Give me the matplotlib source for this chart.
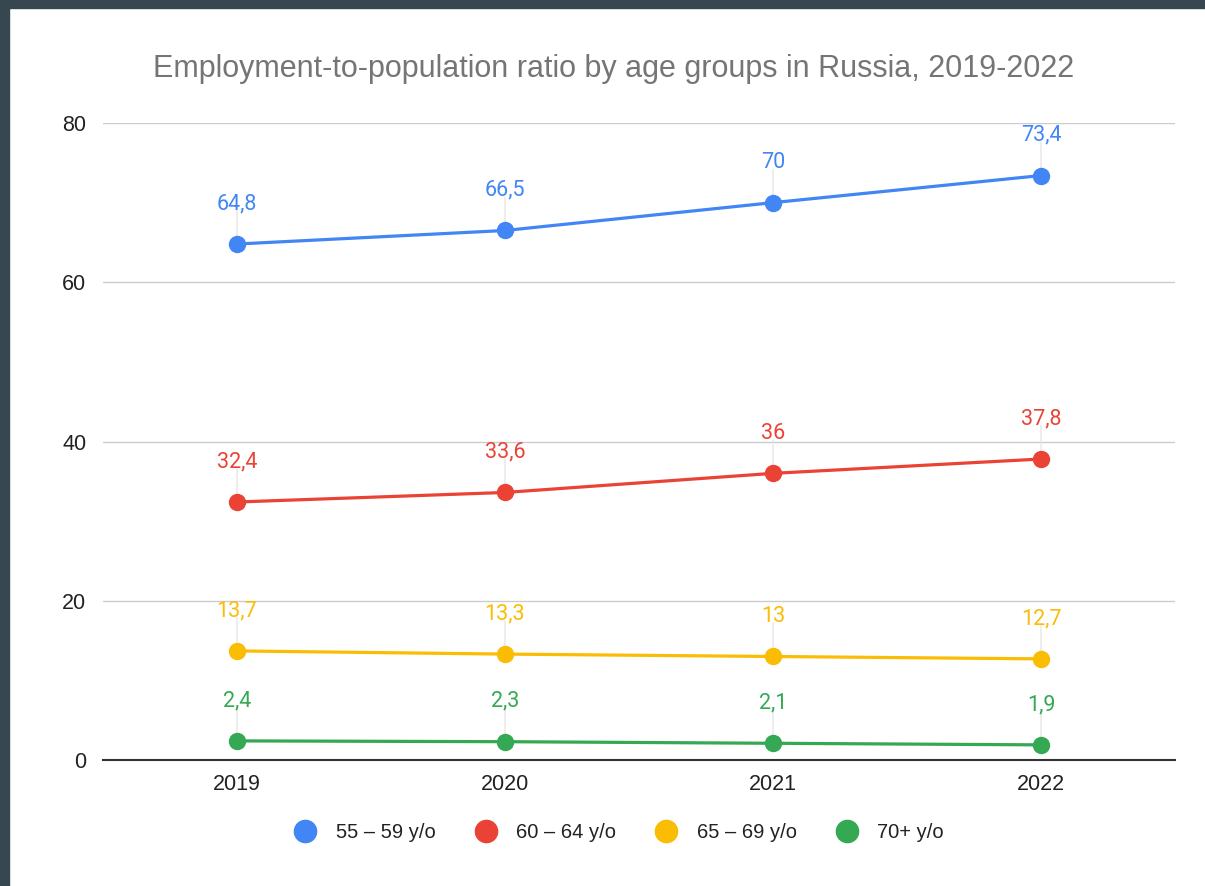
import numpy as np
import matplotlib.pyplot as plt
from matplotlib.patches import Rectangle

plt.rcParams['font.family'] = ['Liberation Sans', 'DejaVu Sans']

years = ['2019', '2020', '2021', '2022']
series_names = ['55 – 59 y/o', '60 – 64 y/o', '65 – 69 y/o', '70+ y/o']
age_55_59 = [64.8, 66.5, 70.0, 73.4]
age_60_64 = [32.4, 33.6, 36.0, 37.8]
age_65_69 = [13.7, 13.3, 13.0, 12.7]
age_70_plus = [2.4, 2.3, 2.1, 1.9]
colors = ['#4285F4', '#EA4335', '#FBBC04', '#34A853']


def fmt(v):
    s = f"{v:g}"
    return s.replace('.', ',')


fig = plt.figure(figsize=(12.05, 8.86), dpi=100)
fig.patch.set_facecolor('white')
# dark frame on top and left
fig.patches.append(Rectangle((0, 0), 9 / 1205, 1, transform=fig.transFigure,
                             color='#37474F', zorder=0))
fig.patches.append(Rectangle((0, 1 - 8 / 886), 1, 8 / 886, transform=fig.transFigure,
                             color='#37474F', zorder=0))

ax = fig.add_axes([103 / 1205, 1 - 760 / 886, (1175 - 103) / 1205, (760 - 123) / 886])
x = np.arange(len(years))

for vals, name, c in zip([age_55_59, age_60_64, age_65_69, age_70_plus], series_names, colors):
    ax.plot(x, vals, color=c, lw=2.3, marker='o', ms=11.5, label=name,
            solid_capstyle='round', zorder=3)
    for xi, v in zip(x, vals):
        ax.annotate('', xy=(xi, v), xytext=(0, 24), textcoords='offset points',
                    arrowprops=dict(arrowstyle='-', color='#e6e6e6', lw=1,
                                    shrinkA=0, shrinkB=0), zorder=2)
        ax.annotate(fmt(v), xy=(xi, v), xytext=(0, 29), textcoords='offset points',
                    ha='center', va='center', color=c, fontsize=15.5,
                    fontfamily=['Roboto', 'DejaVu Sans'], zorder=4)

ax.set_xlim(-0.5, 3.5)
ax.set_ylim(0, 80)
ax.set_yticks([0, 20, 40, 60, 80])
ax.set_xticks(x)
ax.set_xticklabels(years)
ax.grid(axis='y', color='#cccccc', lw=1)
ax.set_axisbelow(True)
for s in ['top', 'right', 'left']:
    ax.spines[s].set_visible(False)
ax.spines['bottom'].set_color('#333333')
ax.spines['bottom'].set_linewidth(1.5)
ax.tick_params(axis='both', length=0, labelsize=15.5, colors='#222222')
ax.tick_params(axis='y', pad=12)
ax.tick_params(axis='x', pad=10)

fig.text(0.509, 1 - 69 / 886, 'Employment-to-population ratio by age groups in Russia, 2019-2022',
         ha='center', va='center', fontsize=22, color='#757575')

handles = [plt.Line2D([], [], marker='o', ls='none', color=c, ms=16) for c in colors]
fig.legend(handles, series_names, loc='center', bbox_to_anchor=(0.51, 1 - 833 / 886),
           ncol=4, frameon=False, fontsize=14.5, handletextpad=0.5, columnspacing=1.5,
           labelcolor='#222222')

fig.savefig('out.png', dpi=100)
